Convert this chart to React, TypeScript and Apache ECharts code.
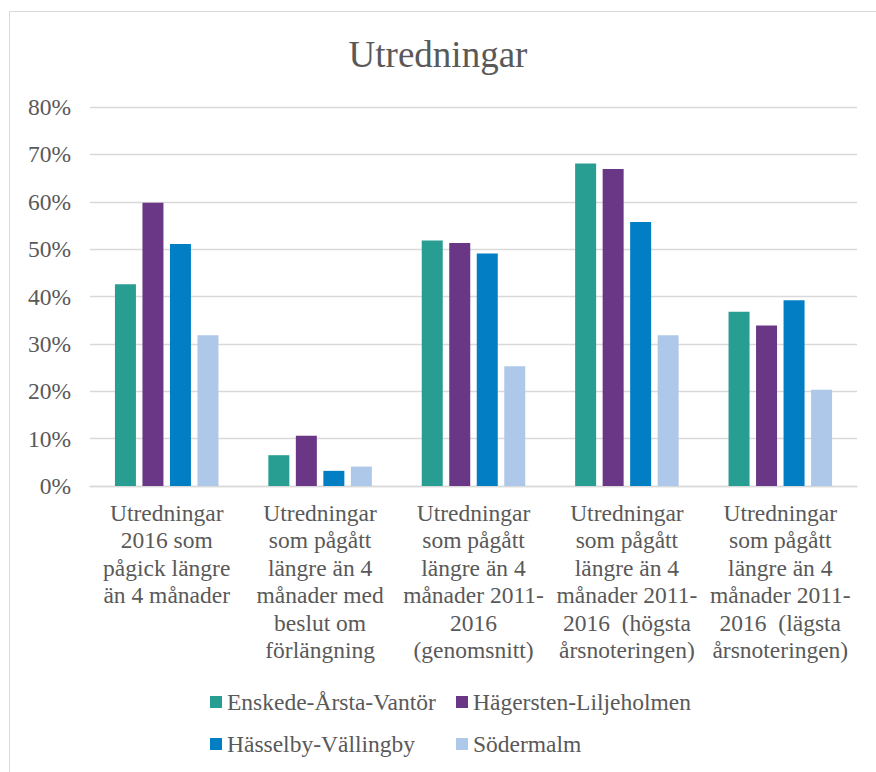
import React, { useEffect, useRef } from "react";
import * as echarts from "echarts";

const categories = [
  "Utredningar\n2016 som\npågick längre\nän 4 månader",
  "Utredningar\nsom pågått\nlängre än 4\nmånader med\nbeslut om\nförlängning",
  "Utredningar\nsom pågått\nlängre än 4\nmånader 2011-\n2016\n(genomsnitt)",
  "Utredningar\nsom pågått\nlängre än 4\nmånader 2011-\n2016  (högsta\nårsnoteringen)",
  "Utredningar\nsom pågått\nlängre än 4\nmånader 2011-\n2016  (lägsta\nårsnoteringen)",
];

const seriesNames = [
  "Enskede-Årsta-Vantör",
  "Hägersten-Liljeholmen",
  "Hässelby-Vällingby",
  "Södermalm",
];

const enskede = [42.6, 6.5, 51.8, 68.1, 36.8];
const hagersten = [59.8, 10.6, 51.3, 66.9, 33.9];
const hasselby = [51.1, 3.2, 49.1, 55.7, 39.2];
const sodermalm = [31.8, 4.1, 25.3, 31.8, 20.3];

const colors = ["#289D92", "#6A3786", "#017EC4", "#AEC8EA"];

const FONT = "'Liberation Serif', 'Times New Roman', serif";
const TEXT = "#595959";

export default function App() {
  const ref = useRef<HTMLDivElement>(null);
  useEffect(() => {
    if (!ref.current) return;
    const chart = echarts.init(ref.current, undefined, { renderer: "svg" });
    const values = [enskede, hagersten, hasselby, sodermalm];
    const legendPos = [
      { left: 210, top: 690 },
      { left: 456, top: 690 },
      { left: 210, top: 732 },
      { left: 456, top: 732 },
    ];
    chart.setOption({
      animation: false,
      backgroundColor: "#ffffff",
      textStyle: { fontFamily: FONT },
      title: {
        text: "Utredningar",
        left: "center",
        top: 31,
        textStyle: { fontFamily: FONT, fontSize: 37, fontWeight: "normal", color: TEXT },
      },
      graphic: [
        {
          type: "rect",
          shape: { x: 9.5, y: 11.5, width: 900, height: 800 },
          style: { fill: "none", stroke: "#d9d9d9", lineWidth: 1 },
          silent: true,
        },
      ],
      legend: seriesNames.map((n, i) => ({
        data: [n],
        left: legendPos[i].left,
        top: legendPos[i].top,
        padding: 0,
        itemWidth: 12,
        itemHeight: 12,
        icon: "rect",
        textStyle: { fontFamily: FONT, fontSize: 23.5, color: TEXT },
      })),
      grid: { left: 90, right: 19, top: 107, bottom: 286, containLabel: false },
      xAxis: {
        type: "category",
        data: categories,
        axisLine: { lineStyle: { color: "#d9d9d9", width: 1.3 } },
        axisTick: { show: false },
        axisLabel: {
          interval: 0,
          fontFamily: FONT,
          fontSize: 23.5,
          lineHeight: 27.5,
          color: TEXT,
          margin: 13,
        },
      },
      yAxis: {
        type: "value",
        min: 0,
        max: 80,
        interval: 10,
        axisLine: { show: false },
        axisTick: { show: false },
        splitLine: { lineStyle: { color: "#d9d9d9", width: 1.3 } },
        axisLabel: {
          formatter: "{value}%",
          fontFamily: FONT,
          fontSize: 23.5,
          color: TEXT,
          margin: 19,
        },
      },
      series: seriesNames.map((n, i) => ({
        name: n,
        type: "bar",
        data: values[i],
        barWidth: 21,
        barGap: "31%",
        itemStyle: { color: colors[i] },
      })),
    });
    return () => chart.dispose();
  }, []);
  return (
    <div
      ref={ref}
      style={{ position: "fixed", left: 0, top: 0, width: 876, height: 772 }}
    />
  );
}
